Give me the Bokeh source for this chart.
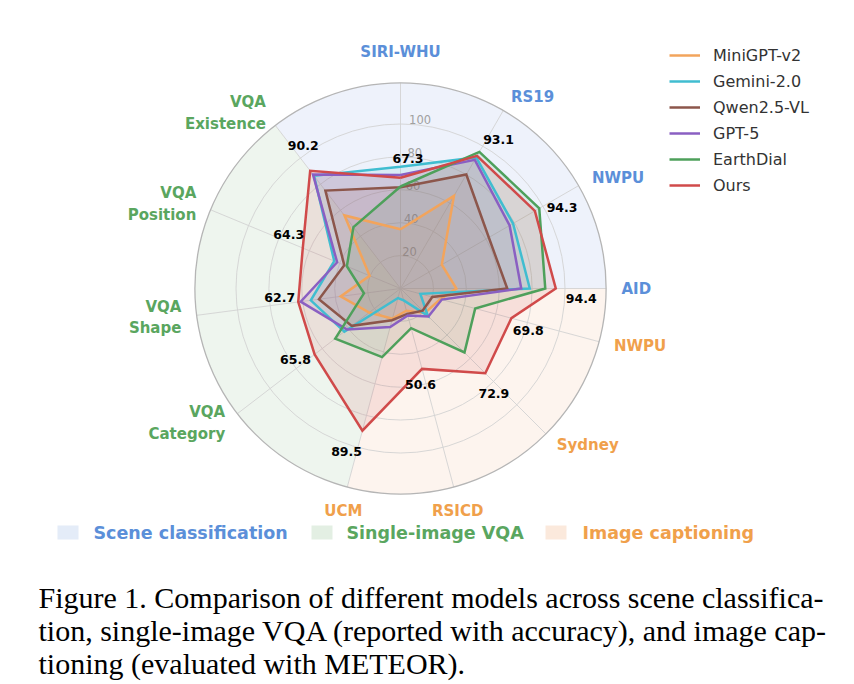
import numpy as np
from bokeh.plotting import figure
from bokeh.models import Range1d, Legend, LegendItem, Label, ColumnDataSource, BoxAnnotation
from bokeh.embed import file_html
from bokeh.resources import INLINE
from bokeh.core.properties import value, field

# ---------------- data ----------------
axis_labels = ["SIRI-WHU", "RS19", "NWPU", "AID",
               "NWPU", "Sydney", "RSICD", "UCM",
               "VQA\nCategory", "VQA\nShape", "VQA\nPosition", "VQA\nExistence"]
group_names = ["Scene classification", "Image captioning", "Single-image VQA"]
axis_group = [0, 0, 0, 0, 1, 1, 1, 1, 2, 2, 2, 2]

model_names = ["MiniGPT-v2", "Gemini-2.0", "Qwen2.5-VL", "GPT-5", "EarthDial", "Ours"]
minigpt_v2 = [36.0, 65.0, 29.0, 34.0, 25.0, 21.0, 14.0, 19.0, 24.0, 36.7, 20.3, 56.0]
gemini_2 = [74.0, 92.0, 79.0, 78.6, 12.5, 23.5, 7.5, 6.0, 43.0, 55.0, 43.6, 86.4]
qwen2_5_vl = [61.6, 80.0, 62.0, 64.9, 20.0, 19.0, 16.0, 20.0, 37.3, 50.0, 37.0, 75.0]
gpt_5 = [69.0, 90.3, 76.6, 73.4, 26.0, 24.0, 17.0, 24.3, 41.0, 61.2, 41.7, 87.4]
earthdial = [62.0, 95.9, 97.4, 88.0, 47.0, 55.0, 25.0, 43.2, 50.0, 22.4, 35.3, 47.0]
ours = [67.3, 93.1, 94.3, 94.4, 69.8, 72.9, 50.6, 89.5, 65.8, 62.7, 64.3, 90.2]
series = [minigpt_v2, gemini_2, qwen2_5_vl, gpt_5, earthdial, ours]

ring_ticks = [20, 40, 60, 80, 100]
r_max = 125

caption_lines = [
    "Figure 1. Comparison of different models across scene classifica-",
    "tion, single-image VQA (reported with accuracy), and image cap-",
    "tioning (evaluated with METEOR).",
]

# ---------------- styling / layout ----------------
model_colors = ["#f2a45c", "#40bdd0", "#8c564b", "#8a5fc2", "#4ea05b", "#d04a4a"]
group_text_colors = ["#5b8fd9", "#f0a04b", "#5aa65f"]
group_bg = ["#eef2fb", "#fdf4ee", "#eef5ee"]
group_swatch = ["#e4ecf8", "#fbe9dc", "#e3efe3"]
group_starts = [90.0, -15.0, -142.5]     # first axis angle of each group (deg, ccw)
angles = np.array([s - 30.0 * k for s in group_starts for k in range(4)])
th = np.deg2rad(angles)

PX = 1.645            # pixels per radial unit
W, H = 846, 684
CX, CY = 400, 288     # centre in figure pixels (from top-left)

p = figure(width=W, height=H,
           x_range=Range1d(-CX / PX, (W - CX) / PX),
           y_range=Range1d(-(H - CY) / PX, CY / PX),
           output_backend="svg", toolbar_location=None, min_border=0)
p.axis.visible = False
p.grid.visible = False
p.outline_line_color = None
p.background_fill_color = "white"

# sector backgrounds: each group spans from its last axis to previous group's last axis
last_idx = [3, 7, 11]
for g in range(3):
    start = angles[last_idx[g]]
    end = angles[last_idx[g - 1]]
    if end <= start:
        end += 360
    p.wedge(x=0, y=0, radius=r_max, start_angle=np.deg2rad(start), end_angle=np.deg2rad(end),
            fill_color=group_bg[g], line_color=None)

# rings
p.circle(x=[0] * len(ring_ticks), y=[0] * len(ring_ticks), radius=ring_ticks,
         fill_color=None, line_color="#d2d2d2", line_width=0.9)
# spokes
p.segment(x0=np.zeros(12), y0=np.zeros(12), x1=r_max * np.cos(th), y1=r_max * np.sin(th),
          line_color="#d2d2d2", line_width=0.9)
# outer circle
p.circle(x=[0], y=[0], radius=[r_max], fill_color=None, line_color="#b5b5b5", line_width=1.3)

# ring labels
rl_th = np.deg2rad(87.0)
p.text(x=[t * np.cos(rl_th) for t in ring_ticks], y=[t * np.sin(rl_th) for t in ring_ticks],
       text=[str(t) for t in ring_ticks], text_font=value("DejaVu Sans"),
       text_font_size="11.5px", text_color="#a0a0a0", text_align="left", text_baseline="bottom")

# series polygons
line_renderers = []
for vals, col in zip(series, model_colors):
    v = np.array(vals)
    xs = v * np.cos(th)
    ys = v * np.sin(th)
    p.patch(x=list(xs), y=list(ys), fill_color=col, fill_alpha=0.12, line_color=None)
for vals, col in zip(series, model_colors):
    v = np.array(vals)
    xs = list(v * np.cos(th)) + [v[0] * np.cos(th[0])]
    ys = list(v * np.sin(th)) + [v[0] * np.sin(th[0])]
    r = p.line(x=xs, y=ys, line_color=col, line_width=2.5, line_join="miter")
    line_renderers.append(r)

# value labels of "Ours"
ov = np.array(ours)
lab_th = th - np.deg2rad(3.3)
lab_r = ov * 1.15 + 1.5
p.text(x=lab_r * np.cos(lab_th), y=lab_r * np.sin(lab_th), text=[f"{x:.1f}" for x in ours],
       text_font=value("DejaVu Sans"), text_font_style="bold", text_font_size="12.5px",
       text_color="black", text_align="center", text_baseline="middle")

# axis (category) labels
xs, ys, aligns, bases, cols = [], [], [], [], []
for i, a in enumerate(angles):
    c, s = np.cos(np.deg2rad(a)), np.sin(np.deg2rad(a))
    if abs(c) < 0.3:
        al = "center"
        if s > 0:
            bl, R = "bottom", 228 / PX
        else:
            bl, R = "top", 221 / PX
    else:
        al = "left" if c > 0 else "right"
        bl, R = "middle", 221 / PX
    xs.append(R * c)
    ys.append(R * s)
    aligns.append(al)
    bases.append(bl)
    cols.append(group_text_colors[axis_group[i]])
src = ColumnDataSource(dict(x=xs, y=ys, text=axis_labels, align=aligns, base=bases, color=cols))
p.text(x="x", y="y", text="text", source=src, text_align=field("align"),
       text_baseline=field("base"), text_color=field("color"),
       text_font=value("DejaVu Sans"), text_font_style="bold", text_font_size="15px",
       text_line_height=1.2)

# model legend
items = [LegendItem(label=n, renderers=[r]) for n, r in zip(model_names, line_renderers)]
leg = Legend(items=items, location=(669, H - 195), glyph_width=31, glyph_height=20,
             label_standoff=13, spacing=6, padding=0, margin=0, label_height=20,
             label_text_font="DejaVu Sans", label_text_font_size="16px",
             label_text_color="#333333", border_line_color=None, background_fill_alpha=0)
p.add_layout(leg)

# group legend (swatch + bold coloured text)
grp_swatch_x = [57, 311, 545]
grp_text_x = [93, 346, 582]
order = [0, 2, 1]
leg_y = 532
for k, g in enumerate(order):
    p.add_layout(BoxAnnotation(left=grp_swatch_x[k], right=grp_swatch_x[k] + 21,
                               top=H - (leg_y - 7), bottom=H - (leg_y + 7),
                               left_units="screen", right_units="screen",
                               top_units="screen", bottom_units="screen",
                               fill_color=group_swatch[g], fill_alpha=1.0, line_color=None))
    p.add_layout(Label(x=grp_text_x[k], y=H - leg_y, x_units="screen", y_units="screen",
                       text=group_names[g], text_font="DejaVu Sans", text_font_style="bold",
                       text_font_size="17.5px", text_color=group_text_colors[g],
                       text_baseline="middle"))

# caption
for i, line in enumerate(caption_lines):
    p.add_layout(Label(x=38, y=H - (597 + 33 * i), x_units="screen", y_units="screen",
                       text=line, text_font="Liberation Serif", text_font_size="30px",
                       text_color="black", text_baseline="middle"))

open("out.html", "w").write(file_html(p, INLINE))
